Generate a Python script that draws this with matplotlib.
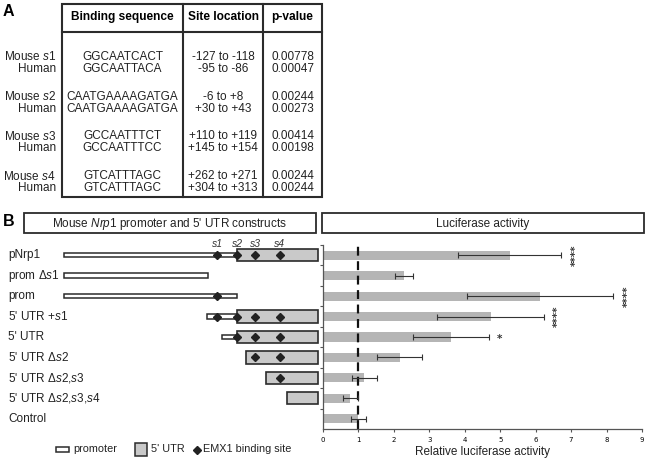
import numpy as np
import matplotlib
matplotlib.use("Agg")
import matplotlib.pyplot as plt
from matplotlib.patches import Rectangle
from matplotlib import transforms

plt.rcParams['font.family'] = ['Liberation Sans', 'DejaVu Sans']
plt.rcParams['mathtext.fontset'] = 'custom'
plt.rcParams['mathtext.rm'] = 'Liberation Sans'
plt.rcParams['mathtext.it'] = 'Liberation Sans:italic'

# ---- panel A table data ----
site_names = ["s1", "s2", "s3", "s4"]
mouse_seq = ["GGCAATCACT", "CAATGAAAAGATGA", "GCCAATTTCT", "GTCATTTAGC"]
human_seq = ["GGCAATTACA", "CAATGAAAAGATGA", "GCCAATTTCC", "GTCATTTAGC"]
mouse_loc = ["-127 to -118", "-6 to +8", "+110 to +119", "+262 to +271"]
human_loc = ["-95 to -86", "+30 to +43", "+145 to +154", "+304 to +313"]
mouse_p = ["0.00778", "0.00244", "0.00414", "0.00244"]
human_p = ["0.00047", "0.00273", "0.00198", "0.00244"]

# ---- panel B data ----
constructs = ["pNrp1", r"prom Δ$\mathit{s1}$", "prom", r"5' UTR +$\mathit{s1}$", "5' UTR",
              r"5' UTR Δ$\mathit{s2}$", r"5' UTR Δ$\mathit{s2{,}s3}$",
              r"5' UTR Δ$\mathit{s2{,}s3{,}s4}$", "Control"]
# schematic positions in nt relative to TSS (None = absent)
prom_start = [-1080, -1080, -1080, -187, -94, None, None, None, None]
prom_end = [0, -181, 0, 0, 0, None, None, None, None]
utr_start = [0, None, None, 0, 0, 56, 181, 312, None]
utr_end = [506, None, None, 506, 506, 506, 506, 506, None]
site_pos = {"s1": -122, "s2": 1, "s3": 115, "s4": 267}
sites_in = [["s1", "s2", "s3", "s4"], [], ["s1"], ["s1", "s2", "s3", "s4"],
            ["s2", "s3", "s4"], ["s3", "s4"], ["s4"], [], []]

luc_mean = [5.27, 2.29, 6.13, 4.73, 3.62, 2.16, 1.17, 0.77, 1.0]
luc_err = [1.45, 0.26, 2.06, 1.50, 1.07, 0.64, 0.35, 0.21, 0.21]
signif = ["****", "", "****", "****", "*", "", "", "", ""]

W, H = 649, 459
fig = plt.figure(figsize=(W / 100, H / 100), dpi=100)

# overlay axes in pixel coordinates for layout elements
ov = fig.add_axes([0, 0, 1, 1])
ov.set_xlim(0, W); ov.set_ylim(H, 0); ov.axis("off")

edge = "#2b2b2b"
txtc = "#222"
# ---- Panel A ----
ov.text(3, 11, "A", fontsize=11.5, fontweight="bold", va="center", ha="left")
ov.add_patch(Rectangle((62, 4), 260, 193, fill=False, lw=1.5, ec=edge))
ov.plot([62, 322], [32, 32], color=edge, lw=1.5)
ov.plot([183, 183], [4, 197], color=edge, lw=1.5)
ov.plot([263, 263], [4, 197], color=edge, lw=1.5)
for txt, xc in [("Binding sequence", 122.5), ("Site location", 223), ("p-value", 292.5)]:
    ov.text(xc, 17, txt, fontsize=8.6, fontweight="bold", ha="center", va="center")
fs = 8.5
for i, s in enumerate(site_names):
    ym = 57 + i * 39.7
    yh = ym + 12
    ov.text(56, ym, r"Mouse $\mathit{%s}$" % s, fontsize=fs, ha="right", va="center", color=txtc)
    ov.text(56, yh, "Human", fontsize=fs, ha="right", va="center", color=txtc)
    ov.text(122.5, ym, mouse_seq[i], fontsize=fs, ha="center", va="center", color=txtc)
    ov.text(122.5, yh, human_seq[i], fontsize=fs, ha="center", va="center", color=txtc)
    ov.text(223, ym, mouse_loc[i], fontsize=fs, ha="center", va="center", color=txtc)
    ov.text(223, yh, human_loc[i], fontsize=fs, ha="center", va="center", color=txtc)
    ov.text(292.5, ym, mouse_p[i], fontsize=fs, ha="center", va="center", color=txtc)
    ov.text(292.5, yh, human_p[i], fontsize=fs, ha="center", va="center", color=txtc)

# ---- Panel B headers ----
ov.text(3, 222, "B", fontsize=11.5, fontweight="bold", va="center", ha="left")
ov.add_patch(Rectangle((24, 213), 292, 20, fill=False, lw=1.3, ec=edge))
ov.text(170, 223.5, r"Mouse $\mathit{Nrp1}$ promoter and 5' UTR constructs",
        fontsize=8.5, ha="center", va="center", color=txtc)
ov.add_patch(Rectangle((322, 213), 322, 20, fill=False, lw=1.3, ec=edge))
ov.text(483, 223.5, "Luciferase activity", fontsize=8.5, ha="center", va="center", color=txtc)

# common vertical placement
ax_bottom = (H - 429) / H
ax_height = (429 - 245) / H
n = len(constructs)
ypos = np.arange(n)

# ---- schematic axes ----
sx0, sx1 = 60, 322
ax_s = fig.add_axes([sx0 / W, ax_bottom, (sx1 - sx0) / W, ax_height])
ax_s.set_xlim((sx0 - 237) / 0.16, (sx1 - 237) / 0.16)
ax_s.set_ylim(n - 0.5, -0.5)
ax_s.axis("off")
utr_fill = "#c9c9c9"
for i in range(n):
    if prom_start[i] is not None:
        ax_s.barh(ypos[i], prom_end[i] - prom_start[i], left=prom_start[i], height=0.22,
                  color="white", edgecolor=edge, lw=1.1, zorder=2)
    if utr_start[i] is not None:
        ax_s.barh(ypos[i], utr_end[i] - utr_start[i], left=utr_start[i], height=0.6,
                  color=utr_fill, edgecolor=edge, lw=1.2, zorder=2)
    for s in sites_in[i]:
        ax_s.plot(site_pos[s], ypos[i], marker="D", ms=4.3, color=txtc, zorder=3)
for s in site_names:
    ax_s.text(site_pos[s], -0.56, s, style="italic", fontsize=7.5, ha="center",
              va="center", color="#333", clip_on=False)

lab_tr = transforms.blended_transform_factory(ov.transData, ax_s.transData)
for i, lab in enumerate(constructs):
    ax_s.text(8, ypos[i], lab, transform=lab_tr, fontsize=8.5, ha="left", va="center", color=txtc)

# ---- bar chart ----
ax = fig.add_axes([323 / W, ax_bottom, (642 - 323) / W, ax_height])
ax.barh(ypos, luc_mean, height=0.45, color="#b5b5b5", zorder=1)
ax.errorbar(luc_mean, ypos, xerr=luc_err, fmt="none", ecolor="#333", elinewidth=0.8,
            capsize=2.2, capthick=0.8, zorder=3)
ax.axvline(1, color="#111", lw=1.6, dashes=(4, 2.5), zorder=2)
for i, s in enumerate(signif):
    if s:
        xs = luc_mean[i] + luc_err[i] + 0.3
        if len(s) > 1:
            ax.text(xs + 0.1, ypos[i], s, rotation=90, fontsize=7.5, fontweight="bold",
                    ha="center", va="center", color="#333", family="DejaVu Sans")
        else:
            ax.text(xs, ypos[i] + 0.12, s, fontsize=7.5, fontweight="bold",
                    ha="center", va="center", color="#333", family="DejaVu Sans")
ax.set_xlim(0, 9)
ax.set_ylim(n - 0.5, -0.5)
ax.set_xticks(range(10))
ax.set_xticklabels([str(v) for v in range(10)], fontsize=5, family="DejaVu Sans")
ax.set_yticks(np.arange(-0.5, n - 0.5, 1))
ax.set_yticklabels([])
ax.tick_params(axis="both", length=2, width=0.8, color="#555", pad=4)
for sp in ["top", "right"]:
    ax.spines[sp].set_visible(False)
for sp in ["left", "bottom"]:
    ax.spines[sp].set_color("#555")
    ax.spines[sp].set_linewidth(0.9)
ax.set_xlabel("Relative luciferase activity", fontsize=8.5, labelpad=2, color=txtc)

# ---- legend ----
ov.add_patch(Rectangle((56, 447), 13, 4.5, fc="white", ec=edge, lw=1.1))
ov.text(73, 449.5, "promoter", fontsize=7.8, va="center", ha="left", color=txtc)
ov.add_patch(Rectangle((135, 443), 12, 13, fc=utr_fill, ec=edge, lw=1.1))
ov.text(151, 449.5, "5' UTR", fontsize=7.8, va="center", ha="left", color=txtc)
ov.plot(197, 449.5, marker="D", ms=4, color=txtc)
ov.text(203, 449.5, "EMX1 binding site", fontsize=7.8, va="center", ha="left", color=txtc)

fig.savefig("out.png", dpi=100)
